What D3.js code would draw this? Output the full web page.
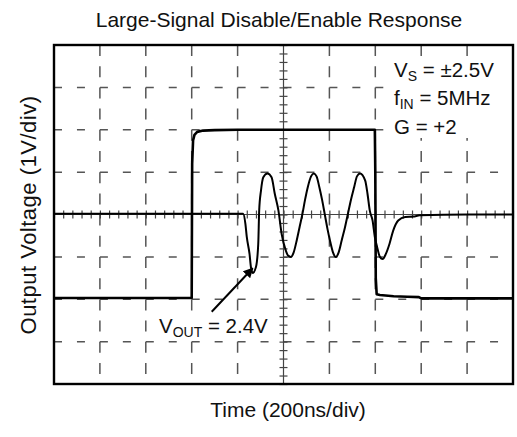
<!DOCTYPE html>
<html><head><meta charset="utf-8">
<script src="https://cdn.jsdelivr.net/npm/d3@7"></script>
<style>body{margin:0;background:#fff}svg{display:block}text{font-family:"Liberation Sans",Arial,sans-serif;fill:#111}</style>
</head><body><svg id="c" width="517" height="437"></svg>
<script>
// Data in scope divisions: time 0..10 div (200ns/div), voltage -4..4 div (1V/div)
const xDivs = [0,1,2,3,4,5,6,7,8,9,10];
const yDivs = [-4,-3,-2,-1,0,1,2,3,4];
// Enable/disable control trace
const enableT = [0,1,2,3.0,3.01,3.03,3.06,3.12,3.25,3.5,4,5,6,6.99,7.0,7.01,7.03,7.1,7.4,7.7,7.95,8.0,9,10];
const enableV = [-1.97,-1.97,-1.97,-1.97,1.2,1.75,1.88,1.95,1.98,1.99,2.0,2.0,2.0,2.0,1.0,-1.5,-1.88,-1.9,-1.93,-1.94,-1.95,-1.98,-1.98,-1.98];
// Output trace
const outT = [0,1,2,3,4,4.12,4.17,4.2,4.26,4.29,4.33,4.40,4.45,4.47,4.51,4.56,4.65,4.74,4.81,4.89,4.96,5.05,5.10,5.16,5.22,5.29,5.35,5.41,5.47,5.53,5.60,5.66,5.72,5.78,5.84,5.90,5.96,6.02,6.08,6.14,6.20,6.27,6.34,6.40,6.47,6.54,6.60,6.67,6.78,6.83,6.88,6.94,6.99,7.04,7.10,7.16,7.23,7.31,7.39,7.50,7.65,7.83,7.97,9,10];
const outV = [0.02,0.02,0.02,0.02,0.02,0.02,-0.22,-0.53,-0.93,-1.24,-1.38,-1.24,-0.69,0.09,0.57,0.88,0.97,0.88,0.49,0.09,-0.46,-0.85,-0.97,-1.0,-0.9,-0.6,-0.3,0.0,0.35,0.65,0.9,0.97,0.9,0.65,0.35,0.0,-0.35,-0.65,-0.9,-1.0,-0.9,-0.6,-0.3,0.0,0.35,0.65,0.9,0.97,0.8,0.49,0.09,-0.14,-0.53,-0.77,-1.0,-1.05,-0.93,-0.69,-0.38,-0.14,-0.06,-0.05,-0.02,0.0,0.0];

const svg = d3.select("#c");
const x = d3.scaleLinear().domain([0,10]).range([54,513]);
const y = d3.scaleLinear().domain([-4,4]).range([384,45]);

// grid
const g = svg.append("g");
xDivs.filter(d=>d>0&&d<10&&d!==5).forEach(d=>{
  g.append("line").attr("x1",x(d)).attr("x2",x(d)).attr("y1",y(4)).attr("y2",y(-4))
   .attr("stroke","#555").attr("stroke-width",1.5).attr("stroke-dasharray","11,10.2");
});
yDivs.filter(d=>d>-4&&d<4&&d!==0).forEach(d=>{
  g.append("line").attr("y1",y(d)).attr("y2",y(d)).attr("x1",x(0)).attr("x2",x(10))
   .attr("stroke","#555").attr("stroke-width",1.5).attr("stroke-dasharray","8,14.95");
});
// center axes with minor ticks
g.append("line").attr("x1",x(5)).attr("x2",x(5)).attr("y1",y(4)).attr("y2",y(-4)).attr("stroke","#444").attr("stroke-width",1.2);
g.append("line").attr("y1",y(0)).attr("y2",y(0)).attr("x1",x(0)).attr("x2",x(10)).attr("stroke","#444").attr("stroke-width",1.2);
const ax = d3.axisBottom(x).ticks(50).tickSize(8).tickFormat("");
const ay = d3.axisLeft(y).ticks(40).tickSize(8).tickFormat("");
const gx = g.append("g").attr("transform",`translate(0,${y(0)-4})`).call(ax);
const gy = g.append("g").attr("transform",`translate(${x(5)+4},0)`).call(ay);
[gx,gy].forEach(a=>{a.select(".domain").remove();a.selectAll("line").attr("stroke","#444").attr("stroke-width",1.2);});

// text backgrounds
svg.append("rect").attr("x",388).attr("y",57).attr("width",124).attr("height",81).attr("fill","#fff");
svg.append("rect").attr("x",156).attr("y",314).attr("width",116).attr("height",25).attr("fill","#fff");

// traces
const line = d3.line().x(d=>x(d[0])).y(d=>y(d[1]));
svg.append("path").datum(enableT.map((t,i)=>[t,enableV[i]])).attr("d",line)
  .attr("fill","none").attr("stroke","#000").attr("stroke-width",2.6).attr("stroke-linejoin","round");
svg.append("path").datum(outT.map((t,i)=>[t,outV[i]])).attr("d",d3.line().x(d=>x(d[0])).y(d=>y(d[1])).curve(d3.curveMonotoneX))
  .attr("fill","none").attr("stroke","#000").attr("stroke-width",2).attr("stroke-linejoin","round");

// frame
svg.append("rect").attr("x",54).attr("y",45).attr("width",459).attr("height",339)
  .attr("fill","none").attr("stroke","#000").attr("stroke-width",2.4);

// arrow
svg.append("defs").append("marker").attr("id","ah").attr("viewBox","0 0 10 10").attr("refX",9).attr("refY",5)
  .attr("markerWidth",5).attr("markerHeight",5).attr("orient","auto")
  .append("path").attr("d","M0,0L10,5L0,10z").attr("fill","#000");
svg.append("line").attr("x1",211.7).attr("y1",311.7).attr("x2",252.7).attr("y2",268.3)
  .attr("stroke","#000").attr("stroke-width",2).attr("marker-end","url(#ah)");

// texts
const fs = 21;
svg.append("text").attr("x",279).attr("y",27).attr("text-anchor","middle").attr("font-size",fs).text("Large-Signal Disable/Enable Response");
svg.append("text").attr("x",288).attr("y",417).attr("text-anchor","middle").attr("font-size",fs).text("Time (200ns/div)");
svg.append("text").attr("transform","translate(36,215) rotate(-90)").attr("text-anchor","middle").attr("font-size",22).attr("letter-spacing",0.5).text("Output Voltage (1V/div)");

function sub(xp, yp, main, s, rest){
  const t = svg.append("text").attr("x",xp).attr("y",yp).attr("font-size",20.5);
  t.append("tspan").text(main);
  t.append("tspan").attr("font-size",14).attr("dy",4).text(s);
  t.append("tspan").attr("dy",-4).text(rest);
}
sub(394,77,"V","S"," = ±2.5V");
sub(394,105,"f","IN"," = 5MHz");
svg.append("text").attr("x",394).attr("y",134).attr("font-size",20.5).text("G = +2");
sub(159,333,"V","OUT"," = 2.4V");
</script></body></html>
